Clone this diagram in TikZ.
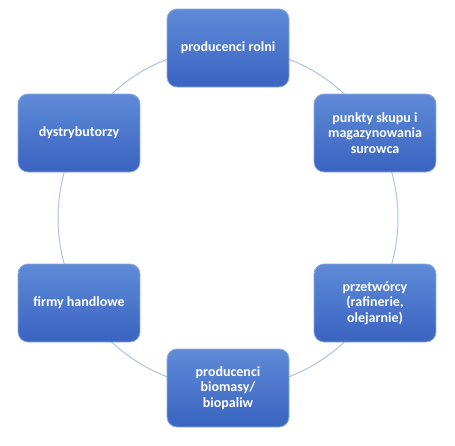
\documentclass[tikz,border=0pt]{standalone}
\usepackage{fontspec}
\setmainfont{Carlito}
\usepackage{tikz}
\usetikzlibrary{shadings}
\usepackage{xcolor}

\definecolor{boxtop}{HTML}{5F8BD8}
\definecolor{boxbottom}{HTML}{3963C0}
\definecolor{boxedge}{HTML}{8EAAE0}
\definecolor{ringline}{HTML}{AFC3E8}

\begin{document}
\begin{tikzpicture}[x=1pt, y=-1pt,
    stage/.style={rectangle, rounded corners=10pt, minimum width=122pt, minimum height=78pt,
      top color=boxtop, bottom color=boxbottom, draw=boxedge, line width=0.8pt,
      text=white, font=\bfseries\fontsize{14}{15.5}\selectfont, align=center, inner sep=2pt}]

      \useasboundingbox (0, 0) rectangle (455, 445);

      \coordinate (c) at (228, 218);
      \draw[ringline, line width=1pt] (c) circle (170);

      \node[stage] (rolni) at (228, 48) {producenci rolni};
      \node[stage] (skup) at (375, 133) {punkty skupu i\\magazynowania\\surowca};
      \node[stage] (przetw) at (375, 303) {przetwórcy\\(rafinerie,\\olejarnie)};
      \node[stage] (biomasa) at (228, 388) {producenci\\biomasy/\\biopaliw};
      \node[stage] (handel) at (79, 303) {firmy handlowe};
      \node[stage] (dystr) at (79, 133) {dystrybutorzy};

    \end{tikzpicture}
\end{document}
